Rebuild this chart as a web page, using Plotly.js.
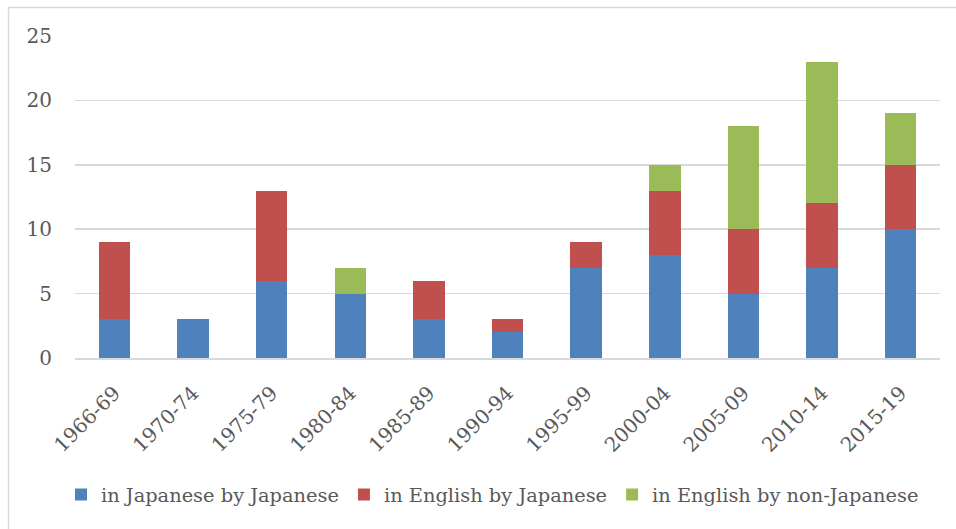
<!DOCTYPE html>
<html>
<head>
<meta charset="utf-8">
<script src="https://cdn.plot.ly/plotly-3.0.1.min.js"></script>
<style>html,body{margin:0;padding:0;background:#fff;}#chart{width:956px;height:529px;}</style>
</head>
<body>
<div id="chart"></div>
<script>
const categories = ["1966-69","1970-74","1975-79","1980-84","1985-89","1990-94","1995-99","2000-04","2005-09","2010-14","2015-19"];
const japaneseByJapanese = [3,3,6,5,3,2,7,8,5,7,10];
const englishByJapanese = [6,0,7,0,3,1,2,5,5,5,5];
const englishByNonJapanese = [0,0,0,2,0,0,0,2,8,11,4];
const seriesNames = ["in Japanese by Japanese","in English by Japanese","in English by non-Japanese"];
const tickVals = [0,5,10,15,20,25];

const colors = ["#4F81BD","#C0504D","#9BBB59"];
const font = {family: "DejaVu Serif, serif", size: 20, color: "#595959"};
const legendFont = {family: "DejaVu Serif, serif", size: 19.4, color: "#595959"};
const seriesData = [japaneseByJapanese, englishByJapanese, englishByNonJapanese];
const traces = seriesData.map((vals, i) => ({
  type: "bar",
  name: seriesNames[i],
  x: categories,
  y: vals,
  marker: {color: colors[i]},
  hoverinfo: "x+y+name"
}));

const L = 75, R = 16, T = 36, B = 171;
const W = 956, H = 529;
const pw = W - L - R, ph = H - T - B;

const layout = {
  width: W, height: H,
  margin: {l: L, r: R, t: T, b: B, pad: 0, autoexpand: false},
  barmode: "stack",
  bargap: 0.6,
  paper_bgcolor: "#fff",
  plot_bgcolor: "#fff",
  font: font,
  showlegend: true,
  legend: {
    orientation: "h",
    x: (61 - L) / pw, xanchor: "left",
    y: -(495 - (H - B)) / ph, yanchor: "middle",
    font: legendFont,
    traceorder: "normal",
    itemwidth: 30
  },
  xaxis: {
    type: "category",
    tickangle: -45,
    showgrid: false,
    showline: true,
    linecolor: "#d9d9d9",
    linewidth: 1.5,
    ticks: "",
    ticklabelstandoff: 14,
    tickfont: font,
    zeroline: false,
    automargin: false
  },
  yaxis: {
    range: [0, 25],
    tickvals: tickVals,
    showgrid: true,
    gridcolor: "#d9d9d9",
    gridwidth: 1.5,
    zeroline: false,
    showline: false,
    ticks: "",
    ticklabelstandoff: 22,
    tickfont: font,
    automargin: false
  },
  shapes: [{
    type: "rect", xref: "paper", yref: "paper",
    x0: (8.5 - L) / pw, x1: (W + 5 - L) / pw,
    y0: -(H + 5 - (H - B)) / ph, y1: 1 + (T - 7.5) / ph,
    line: {color: "#d9d9d9", width: 1.5},
    fillcolor: "rgba(0,0,0,0)",
    layer: "below"
  }]
};

Plotly.newPlot("chart", traces, layout, {displayModeBar: false, staticPlot: true});
</script>
</body>
</html>
